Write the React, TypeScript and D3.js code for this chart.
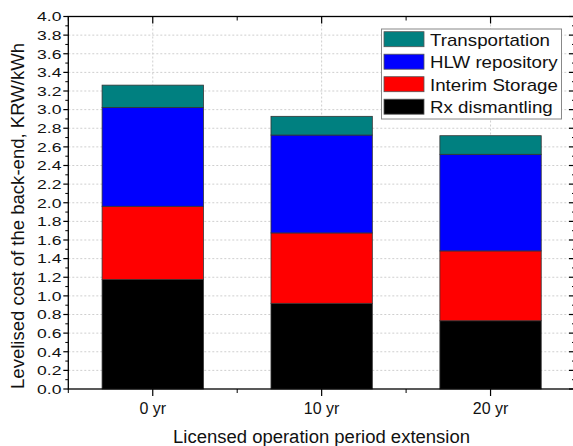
import React from "react";
import * as d3 from "d3";

const categories = ["0 yr", "10 yr", "20 yr"];
const seriesNames = ["Rx dismantling", "Interim Storage", "HLW repository", "Transportation"];
const rxDismantling = [1.176, 0.92, 0.733];
const interimStorage = [0.786, 0.756, 0.75];
const hlwRepository = [1.062, 1.051, 1.037];
const transportation = [0.239, 0.201, 0.2];
const seriesColors = ["#000000", "#ff0000", "#0000ff", "#008080"];
const yTicks = d3.range(0, 4.0001, 0.2);
const legendOrder = ["Transportation", "HLW repository", "Interim Storage", "Rx dismantling"];

const W = 573, H = 446;
const left = 68.3, right = 575, top = 16.5, bottom = 389;

export default function App() {
  const x = d3.scaleLinear().domain([-0.5, 2.5]).range([left, right]);
  const y = d3.scaleLinear().domain([0, 4]).range([bottom, top]);
  const barW = (x(1) - x(0)) * 0.6;
  const rows = categories.map((c, i) => ({
    cat: c,
    "Rx dismantling": rxDismantling[i],
    "Interim Storage": interimStorage[i],
    "HLW repository": hlwRepository[i],
    Transportation: transportation[i],
  }));
  const stack = d3.stack<any>().keys(seriesNames)(rows);
  const minorY = d3.range(0.1, 4, 0.2);
  const minorX = [-0.5, 0.5, 1.5, 2.5];
  const font = "Arial, 'Liberation Sans', sans-serif";

  return (
    <svg width={W} height={H} style={{ position: "absolute", left: 0, top: 0, background: "#fff" }} fontFamily={font}>
      <rect x={0} y={0} width={W} height={H} fill="#fff" />
      {/* grid */}
      {yTicks.slice(1, -1).map((t) => (
        <line key={"g" + t} x1={left} x2={right} y1={y(t)} y2={y(t)} stroke="#cfcfcf" strokeWidth={1} strokeDasharray="2,2" />
      ))}
      {categories.map((c, i) => (
        <line key={"gv" + i} x1={x(i)} x2={x(i)} y1={top} y2={bottom} stroke="#cfcfcf" strokeWidth={1} strokeDasharray="2,2" />
      ))}
      {/* bars */}
      {stack.map((s, si) => (
        <g key={s.key}>
          {s.map((d, i) => (
            <rect key={i} x={x(i) - barW / 2} width={barW} y={y(d[1])} height={y(d[0]) - y(d[1])}
              fill={seriesColors[si]} stroke="#333" strokeWidth={0.8} />
          ))}
        </g>
      ))}
      {/* frame */}
      <rect x={left} y={top} width={right - left} height={bottom - top} fill="none" stroke="#000" strokeWidth={1.3} />
      {/* y ticks */}
      {yTicks.map((t) => (
        <g key={"yt" + t}>
          <line x1={left - 5} x2={left} y1={y(t)} y2={y(t)} stroke="#000" strokeWidth={1.2} />
          <line x1={right - 6} x2={right} y1={y(t)} y2={y(t)} stroke="#000" strokeWidth={1.2} />
          <text x={0} y={0} fontSize={13.5} textAnchor="end" fill="#111"
            transform={`translate(61.5,${y(t) + 4.8}) scale(1.3,1)`}>{t.toFixed(1)}</text>
        </g>
      ))}
      {minorY.map((t) => (
        <g key={"ym" + t}>
          <line x1={left - 3} x2={left} y1={y(t)} y2={y(t)} stroke="#000" strokeWidth={1} />
          <line x1={right - 3} x2={right} y1={y(t)} y2={y(t)} stroke="#000" strokeWidth={1} />
        </g>
      ))}
      {/* x ticks */}
      {categories.map((c, i) => (
        <g key={"xt" + i}>
          <line x1={x(i)} x2={x(i)} y1={bottom} y2={bottom + 7} stroke="#000" strokeWidth={1.2} />
          <line x1={x(i)} x2={x(i)} y1={top} y2={top + 7} stroke="#000" strokeWidth={1.2} />
          <text x={x(i)} y={bottom + 25} fontSize={16} textAnchor="middle" fill="#111">{c}</text>
        </g>
      ))}
      {minorX.map((v) => (
        <g key={"xm" + v}>
          <line x1={x(v)} x2={x(v)} y1={bottom} y2={bottom + 4} stroke="#000" strokeWidth={1} />
          <line x1={x(v)} x2={x(v)} y1={top} y2={top + 4} stroke="#000" strokeWidth={1} />
        </g>
      ))}
      {/* titles */}
      <text x={321.5} y={443} fontSize={18} textAnchor="middle" fill="#111"
        textLength={297} lengthAdjust="spacingAndGlyphs">
        Licensed operation period extension
      </text>
      <text transform={`translate(23.5,${(389 + 43) / 2}) rotate(-90)`} fontSize={18} textAnchor="middle" fill="#111"
        textLength={346} lengthAdjust="spacingAndGlyphs">
        Levelised cost of the back-end, KRW/kWh
      </text>
      {/* legend */}
      <rect x={381.5} y={29} width={180} height={90} fill="#fff" stroke="#888" strokeWidth={1} />
      {legendOrder.map((name, i) => {
        const si = seriesNames.indexOf(name);
        const cy = 39.2 + i * 22.5;
        return (
          <g key={name}>
            <rect x={384} y={cy - 7.5} width={40} height={15} fill={seriesColors[si]} stroke="#555" strokeWidth={0.8} />
            <text x={0} y={0} fontSize={16} fill="#111" transform={`translate(430,${cy + 6.3}) scale(1.17,1)`}>{name}</text>
          </g>
        );
      })}
    </svg>
  );
}
